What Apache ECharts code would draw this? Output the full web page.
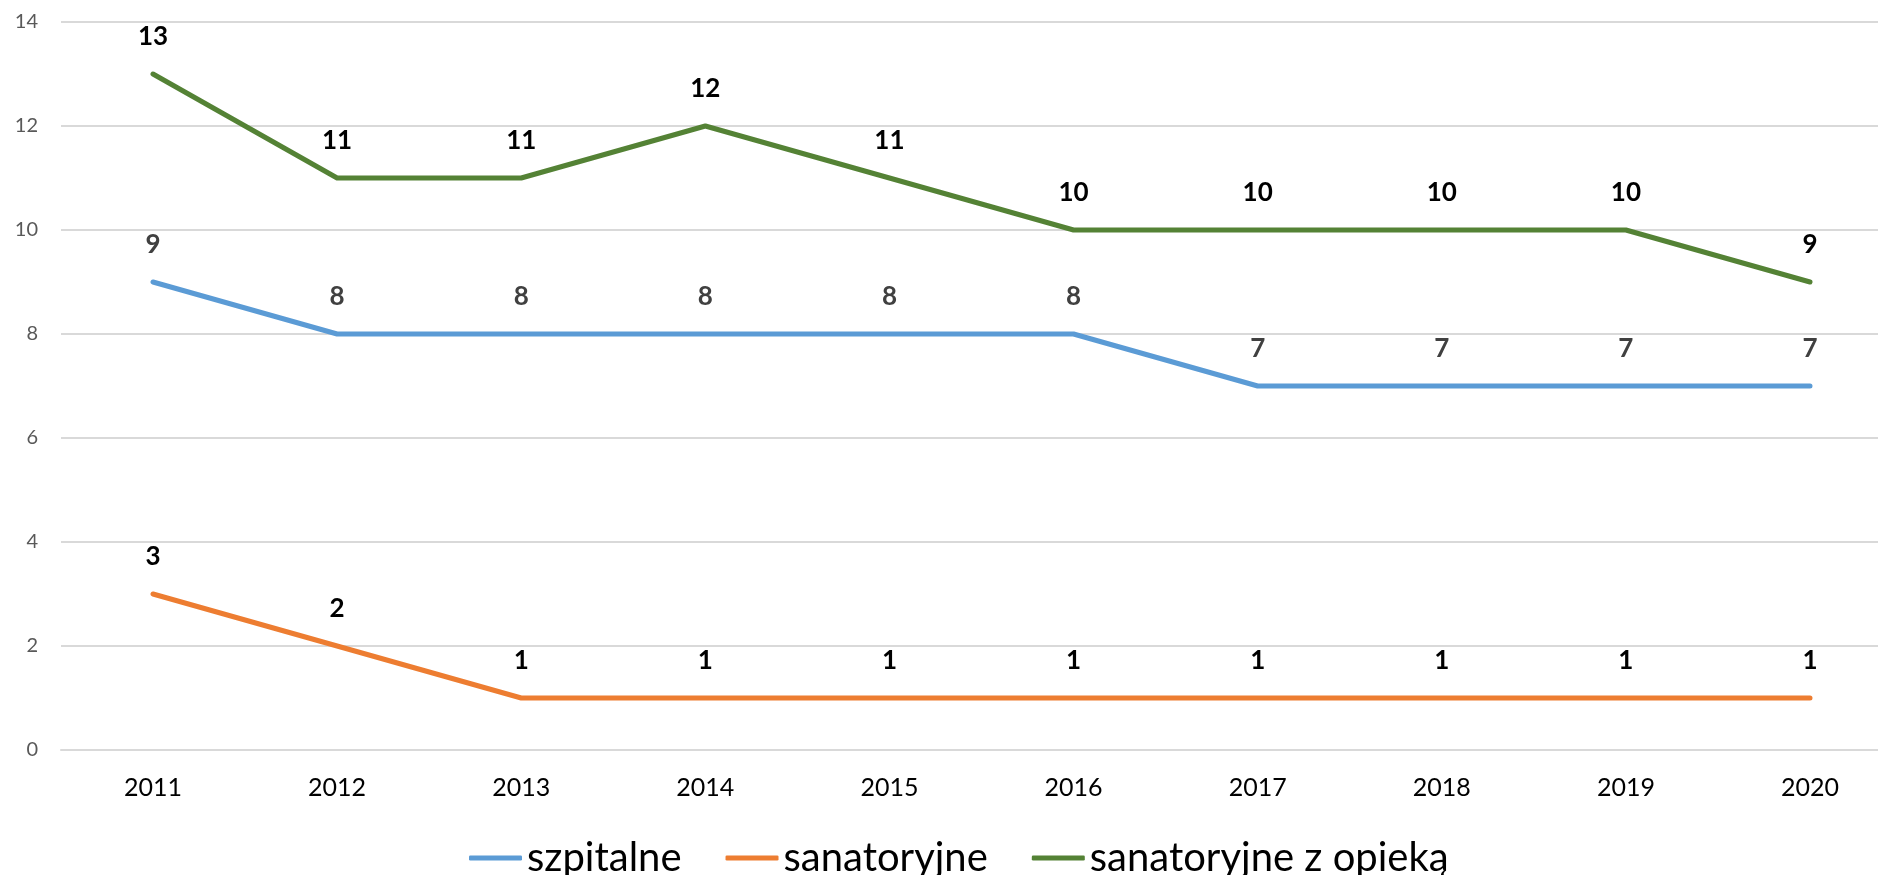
<!DOCTYPE html>
<html>
<head>
<meta charset="utf-8">
<script src="https://cdn.jsdelivr.net/npm/echarts@6/dist/echarts.min.js"></script>
<style>
html,body{margin:0;padding:0;background:#fff;}
#chart{width:1878px;height:875px;}
</style>
</head>
<body>
<div id="chart"></div>
<script>
// dane
const years = ['2011','2012','2013','2014','2015','2016','2017','2018','2019','2020'];
const szpitalne = [9,8,8,8,8,8,7,7,7,7];
const sanatoryjne = [3,2,1,1,1,1,1,1,1,1];
const sanatoryjneZOpieka = [13,11,11,12,11,10,10,10,10,9];
const yTicks = {min:0, max:14, interval:2};

const FONT = 'Lato';

function lineSeries(name, data, color, labelColor){
    return {
        name: name,
        type: 'line',
        xAxisIndex: 1,
        yAxisIndex: 1,
        data: data,
        symbol: 'circle',
        symbolSize: 0.1,
        showAllSymbol: true,
        color: color,
        itemStyle: {color: color},
        lineStyle: {width:5, color:color, cap:'round', join:'round'},
        label: {
            show: true,
            position: 'top',
            distance: 24,
            color: labelColor,
            fontFamily: FONT,
            fontWeight: 'bold',
            fontSize: 26
        }
    };
}

const chart = echarts.init(document.getElementById('chart'));
chart.setOption({
    animation: false,
    // grid 0: tło z liniami siatki, grid 1: serie (ostatnia kategoria wychodzi poza kadr)
    grid: [
        {left:61, right:0, top:22, height:728},
        {left:153, right:68, top:22, height:728}
    ],
    legend: {
        left: 464,
        top: 833,
        icon: 'roundRect',
        itemWidth: 53,
        itemHeight: 5,
        itemGap: 44,
        textStyle: {fontFamily:FONT, fontSize:40, color:'#000'},
        data: ['szpitalne','sanatoryjne','sanatoryjne z opieką']
    },
    xAxis: [
        {
            type: 'category',
            gridIndex: 0,
            data: years,
            axisLine: {lineStyle:{color:'#d9d9d9', width:2}},
            axisTick: {show:false},
            axisLabel: {show:false}
        },
        {
            type: 'category',
            gridIndex: 1,
            data: years,
            boundaryGap: false,
            axisLine: {show:false},
            axisTick: {show:false},
            axisLabel: {color:'#000', fontFamily:FONT, fontSize:25, margin:25}
        }
    ],
    yAxis: [
        {
            type: 'value',
            gridIndex: 0,
            min: yTicks.min,
            max: yTicks.max,
            interval: yTicks.interval,
            axisLine: {show:false},
            axisTick: {show:false},
            splitLine: {lineStyle:{color:'#d9d9d9', width:2}},
            axisLabel: {color:'#595959', fontFamily:FONT, fontSize:20, margin:23}
        },
        {
            type: 'value',
            gridIndex: 1,
            min: yTicks.min,
            max: yTicks.max,
            interval: yTicks.interval,
            show: false
        }
    ],
    series: [
        lineSeries('szpitalne', szpitalne, '#5b9bd5', '#404040'),
        lineSeries('sanatoryjne', sanatoryjne, '#ed7d31', '#000'),
        lineSeries('sanatoryjne z opieką', sanatoryjneZOpieka, '#548235', '#000')
    ]
});
</script>
</body>
</html>
